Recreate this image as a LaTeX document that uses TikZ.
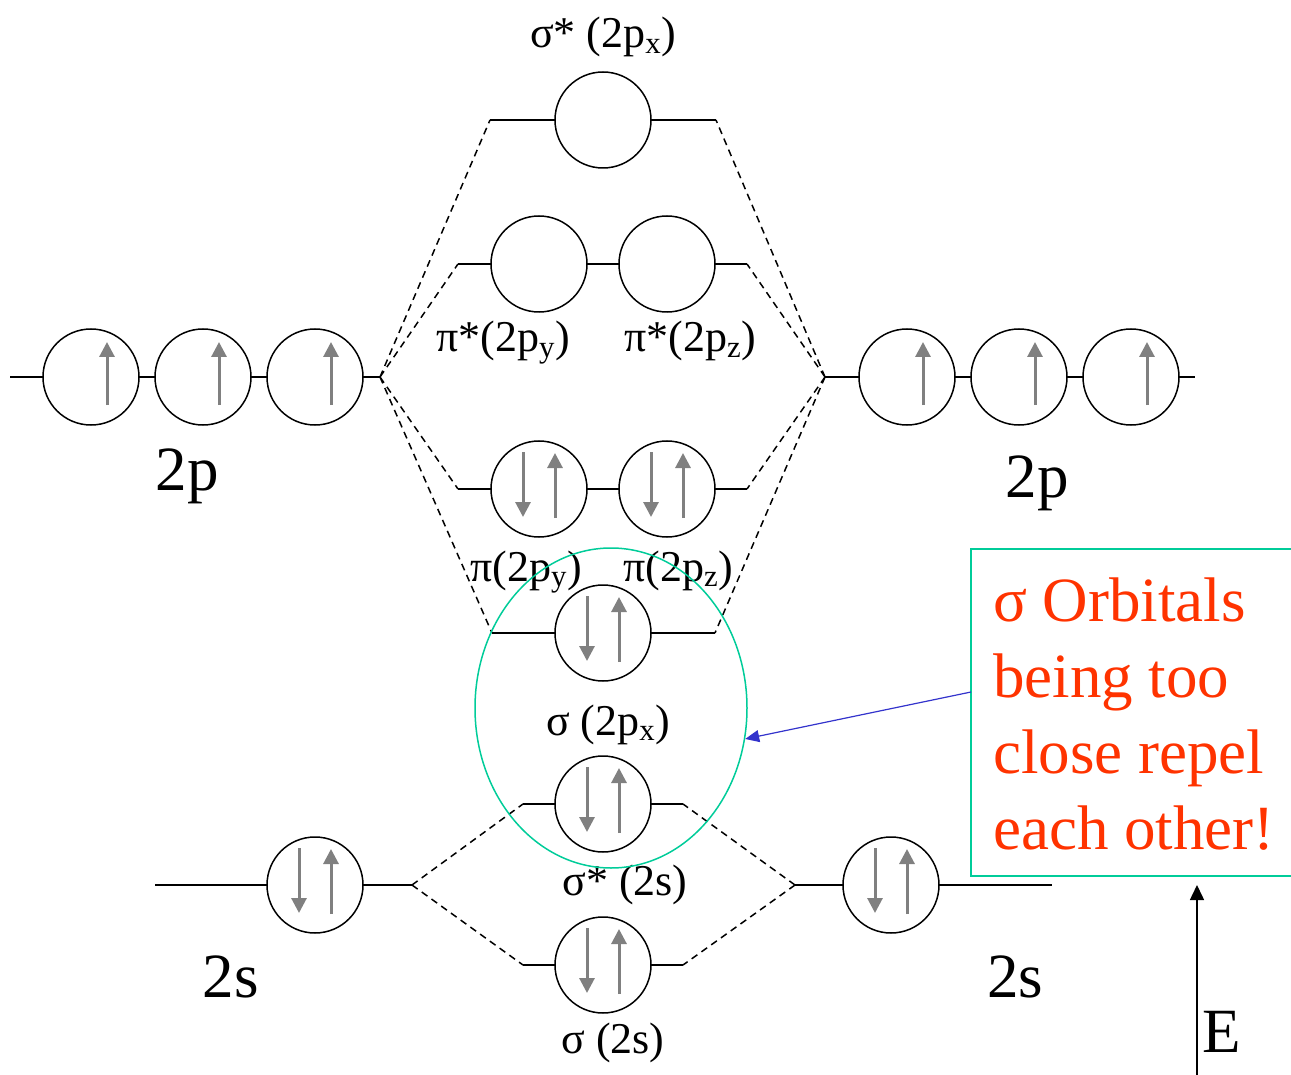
\documentclass[tikz,border=0pt]{standalone}
\usepackage{fontspec}
\setmainfont{Liberation Serif}
\newfontfamily\tmsfont{Liberation Serif}
\usetikzlibrary{arrows.meta,shapes.geometric}
\definecolor{tealc}{RGB}{0,204,153}
\definecolor{redc}{RGB}{255,51,0}
\definecolor{bluec}{RGB}{51,51,204}
\definecolor{spinc}{RGB}{128,128,128}
\begin{document}
\begin{tikzpicture}[x=1pt,y=-1pt,
  orb/.style={circle,draw,line width=1.5pt,minimum size=96pt,inner sep=0pt,outer sep=0pt},
  lvl/.style={line width=1.5pt},
  corr/.style={line width=1.5pt,dash pattern=on 7pt off 5pt},
  spin/.style={draw=spinc,line width=3pt,-{Triangle[length=15pt,width=15pt]}},
  lab/.style={font=\tmsfont\fontsize{44}{52}\selectfont,inner sep=0pt,anchor=base},
  big/.style={font=\tmsfont\fontsize{63}{76}\selectfont,inner sep=0pt,anchor=base},
]
\useasboundingbox (0,0) rectangle (1291,1075);

% ---------- atomic 2p (left) ----------
\node[orb] (L2p1) at (91,377) {};
\node[orb] (L2p2) at (203,377) {};
\node[orb] (L2p3) at (315,377) {};
\coordinate (L0) at (10,377);
\coordinate (Lj) at (380,377);
\draw[lvl] (L0) -- (L2p1.west) (L2p1.east) -- (L2p2.west) (L2p2.east) -- (L2p3.west) (L2p3.east) -- (Lj);
\foreach \n in {L2p1,L2p2,L2p3}{\draw[spin] ([shift={(16,28)}]\n.center) -- ([shift={(16,-35)}]\n.center);}
\node[big] (L2plab) at (187,490) {2p};

% ---------- atomic 2p (right) ----------
\node[orb] (R2p1) at (907,377) {};
\node[orb] (R2p2) at (1019,377) {};
\node[orb] (R2p3) at (1131,377) {};
\coordinate (Rj) at (825,377);
\coordinate (R0) at (1195,377);
\draw[lvl] (Rj) -- (R2p1.west) (R2p1.east) -- (R2p2.west) (R2p2.east) -- (R2p3.west) (R2p3.east) -- (R0);
\foreach \n in {R2p1,R2p2,R2p3}{\draw[spin] ([shift={(16,28)}]\n.center) -- ([shift={(16,-35)}]\n.center);}
\node[big] (R2plab) at (1037,497) {2p};

% ---------- sigma* 2px ----------
\node[orb] (sxs) at (603,120) {};
\coordinate (sxsL) at (490,120);
\coordinate (sxsR) at (716,120);
\draw[lvl] (sxsL) -- (sxs.west) (sxs.east) -- (sxsR);
\node[lab] (sxslab) at (603,48) {σ* (2p\textsubscript{x})};

% ---------- pi* ----------
\node[orb] (pis1) at (539,264) {};
\node[orb] (pis2) at (667,264) {};
\coordinate (pisL) at (458,264);
\coordinate (pisR) at (747,264);
\draw[lvl] (pisL) -- (pis1.west) (pis1.east) -- (pis2.west) (pis2.east) -- (pisR);
\node[lab] (pis1lab) at (503,352) {π*(2p\textsubscript{y})};
\node[lab] (pis2lab) at (690,352) {π*(2p\textsubscript{z})};

% ---------- pi ----------
\node[orb] (pi1) at (539,489) {};
\node[orb] (pi2) at (667,489) {};
\coordinate (piL) at (458,489);
\coordinate (piR) at (747,489);
\draw[lvl] (piL) -- (pi1.west) (pi1.east) -- (pi2.west) (pi2.east) -- (piR);
\node[lab] (pi1lab) at (526,581) {π(2p\textsubscript{y})};
\node[lab] (pi2lab) at (678,581) {π(2p\textsubscript{z})};

% ---------- sigma 2px ----------
\node[orb] (sx) at (603,633) {};
\coordinate (sxL) at (492,633);
\coordinate (sxR) at (715,633);
\draw[lvl] (sxL) -- (sx.west) (sx.east) -- (sxR);
\node[lab] (sxlab) at (608,735) {σ (2p\textsubscript{x})};

% ---------- sigma* 2s ----------
\node[orb] (sss) at (603,804) {};
\coordinate (sssL) at (523,804);
\coordinate (sssR) at (683,804);
\draw[lvl] (sssL) -- (sss.west) (sss.east) -- (sssR);
\node[lab] (ssslab) at (625,895) {σ* (2s)};

% ---------- sigma 2s ----------
\node[orb] (ss) at (603,965) {};
\coordinate (ssL) at (523,965);
\coordinate (ssR) at (683,965);
\draw[lvl] (ssL) -- (ss.west) (ss.east) -- (ssR);
\node[lab] (sslab) at (613,1053) {σ (2s)};

% ---------- atomic 2s ----------
\node[orb] (L2s) at (315,885) {};
\coordinate (L2s0) at (155,885);
\coordinate (L2sj) at (412,885);
\draw[lvl] (L2s0) -- (L2s.west) (L2s.east) -- (L2sj);
\node[big] (L2slab) at (231,997) {2s};
\node[orb] (R2s) at (891,885) {};
\coordinate (R2sj) at (795,885);
\coordinate (R2s0) at (1052,885);
\draw[lvl] (R2sj) -- (R2s.west) (R2s.east) -- (R2s0);
\node[big] (R2slab) at (1015,997) {2s};

% ---------- paired spins ----------
\foreach \n in {pi1,pi2,sx,sss,ss,L2s,R2s}{
  \draw[spin] ([shift={(-16,-37)}]\n.center) -- ([shift={(-16,28)}]\n.center);
  \draw[spin] ([shift={(16,29)}]\n.center) -- ([shift={(16,-36)}]\n.center);
}

% ---------- correlation lines ----------
\draw[corr] (Lj) -- (sxsL) (Lj) -- (pisL) (Lj) -- (piL) (Lj) -- (sxL);
\draw[corr] (Rj) -- (sxsR) (Rj) -- (pisR) (Rj) -- (piR) (Rj) -- (sxR);
\draw[corr] (L2sj) -- (sssL) (L2sj) -- (ssL);
\draw[corr] (R2sj) -- (sssR) (R2sj) -- (ssR);

% ---------- highlight ----------
\node[ellipse,draw=tealc,line width=1.5pt,minimum width=272pt,minimum height=320pt,inner sep=0pt] (ell) at (611,708) {};
\coordinate (nb1) at (1291,549);
\coordinate (nb2) at (971,549);
\coordinate (nb3) at (971,876);
\coordinate (nb4) at (1291,876);
\draw[tealc,line width=1.5pt] (nb1) -- (nb2) -- (nb3) -- (nb4);
\node[font=\tmsfont\fontsize{63}{76}\selectfont,text=redc,align=left,inner sep=0pt,anchor=north west] (note) at (993,578)
  {σ Orbitals\\being too\\close repel\\each other!};
\coordinate (arrs) at (971,692);
\draw[bluec,line width=1.2pt,-{Triangle[length=14pt,width=12pt]}] (arrs) -- (ell.-13);

% ---------- energy axis ----------
\coordinate (Eb) at (1197,1075);
\coordinate (Et) at (1197,885);
\draw[line width=1.5pt,-{Triangle[length=15pt,width=14pt]}] (Eb) -- (Et);
\node[big,anchor=base west] (Elab) at (1202,1052) {E};
\end{tikzpicture}
\end{document}
